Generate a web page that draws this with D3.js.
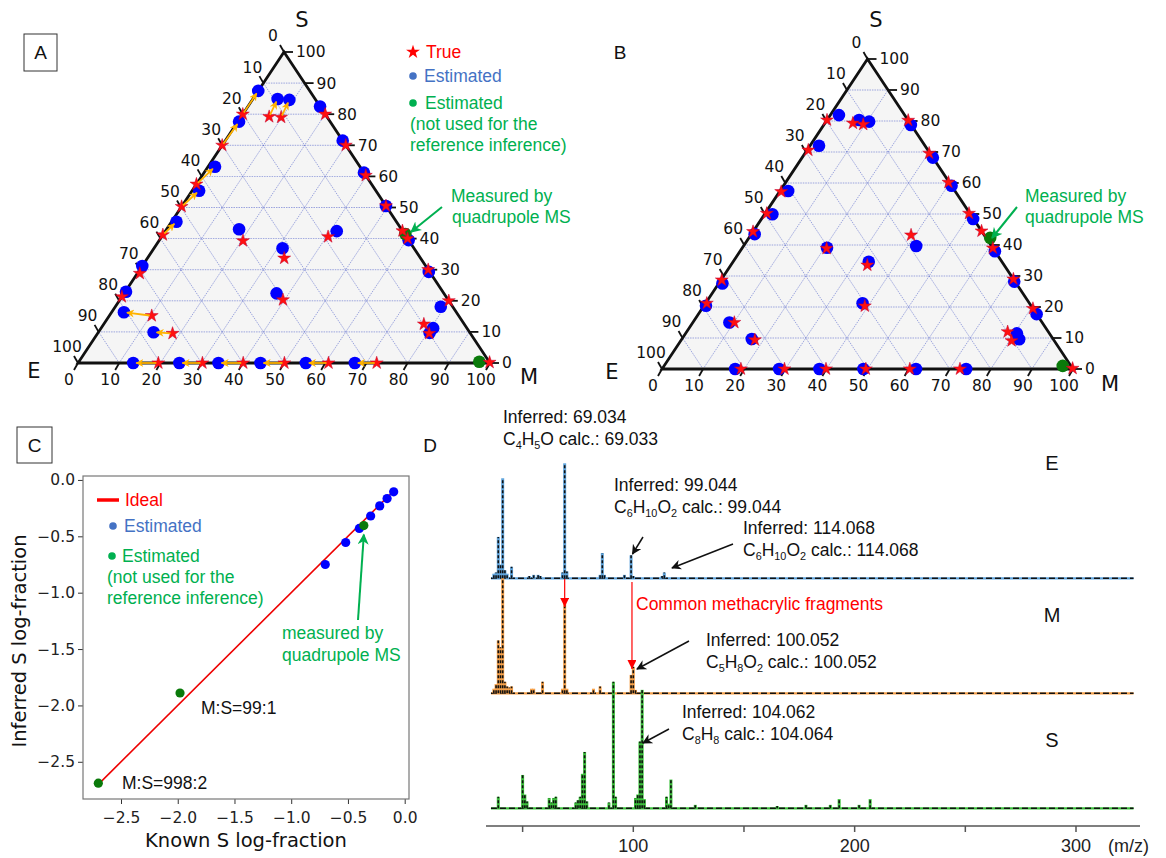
<!DOCTYPE html>
<html>
<head>
<meta charset="utf-8">
<script src="https://cdn.jsdelivr.net/npm/d3@7"></script>
<style>
  body { margin: 0; background: #fff; }
  text { font-family: "Liberation Sans", Arial, sans-serif; }
  .mpl { font-family: "DejaVu Sans", sans-serif; }
</style>
</head>
<body>
<div id="chart"></div>
<script>
// ---------- data ----------
// ternary points are [M %, S %]; E % = 100 - M - S
// true / estimated pairs, same order (A)
const aTrue = [[0,80],[0,70],[0,57.5],[0,50.3],[0,41.2],[0.6,28.8],[0,21.3],
  [10.3,15.2],[18.2,9.5],[6.8,79.2],[9.8,79],
  [20.4,39.3],[33.2,33.7],[39.6,20.3],[40.4,40.6],
  [20,80],[30,70],[39.7,60.3],[49.5,50.5],[57.5,42.5],[70,30],[80,20],[77.7,12.5],[80.5,9.5],
  [19.5,0],[30.2,0],[40.1,0],[50.1,0],[60.8,0],[72.5,0]];
const aEst = [[0,87.5],[0.3,77.6],[1.7,63.1],[1.7,55.4],[1.2,45.4],[0,31.2],[0.2,22.9],
  [3,16.3],[13.4,9.9],[6,84.9],[9,84.6],
  [17.6,43],[31.2,36.9],[37,22.4],[41.6,42.4],
  [17.5,82.5],[28.5,71.5],[38.8,61.2],[49.5,50.5],[60.5,39.5],[70.5,29.3],[79,18.1],[80.6,11.2],[80.5,9.7],
  [13.4,0],[24.6,0],[34.1,0],[44.3,0],[55.3,0],[67.2,0]];
const aTrueExtra = [[99.8,0.2],[60,40]];
const aGreen = [[58.7,41.5],[97.2,0.4]];

// B
const bTrue = [[0,80.3],[0.3,70.6],[0.4,57.2],[0.4,50.2],[0,44.3],[0.2,28.7],[0.3,21.2],
  [10.1,15],[17.9,9.4],[6.8,79.3],[9.5,78.9],
  [20.6,38.9],[33.2,33.5],[39.2,20.3],[39,43.2],
  [19.8,80.2],[30.2,69.6],[39.6,60.2],[49.6,50.2],[55.5,44.5],[71,29],[80.5,19.5],[78.1,12],[80.5,9.1],
  [19.2,0],[29.8,0],[39.9,0],[49.6,0],[60.3,0],[72.5,0]];
const bEst = [[2.1,81.9],[2.2,72],[2,57.4],[1.9,49.9],[0.8,43.5],[0.9,27.6],[0.5,20.4],
  [8.9,15],[17,9.7],[7.8,80.3],[10.5,79.8],
  [20.6,39.1],[33,34.6],[38.2,21.2],[42,39.7],
  [21.2,78.7],[31.8,68.2],[40.9,59.1],[51.5,48.4],[62,38],[71.6,28.2],[82.3,17.7],[80.6,11.5],[82.1,9.6],
  [17.8,0],[28.5,0],[38.3,0],[49,0],[61.8,0],[74,0]];
const bTrueExtra = [[99.8,0.2],[61,39]];
const bGreen = [[58.7,42.3],[97,1]];

const ternTicks = d3.range(0, 101, 10);

// C : log-fractions
const cKnown    = [-0.70, -0.52, -0.40, -0.30, -0.22, -0.155, -0.097];
const cInferred = [-0.75, -0.555, -0.43, -0.32, -0.23, -0.165, -0.105];
const cGreenKnown    = [-0.36, -1.98, -2.70];
const cGreenInferred = [-0.405, -1.89, -2.69];
const cIdeal = [-2.7, -0.1];
const cTicks = [-2.5, -2.0, -1.5, -1.0, -0.5, 0.0];

// D : spectra (m/z, relative intensity)
const eMz  = [37,38,39,40,41,42,43,45,53,55,57,58,68,69,70,85,86,87,96,99,100,113,114];
const eInt = [4,5,36,12,87,7,4,10,2,3,3,2,5,100,6,3,22,3,3,20,2,2,5];
const mMz  = [37,38,39,40,41,42,43,44,45,54,55,59,68,69,70,82,85,99,100,101];
const mInt = [4,8,46,40,100,10,6,5,6,4,4,10,4,81,4,4,6,16,23,3];
const sMz  = [39,50,51,52,62,63,64,65,74,75,76,77,78,79,89,91,92,101,102,103,104,105,115,116,117,128,165,178,189,193,202,207];
const sInt = [10,29,12,6,9,5,9,10,5,7,10,30,49,6,5,110,10,9,12,58,103,8,10,4,25,3,2,3,3,8,3,8];
const dTicks = [50,100,150,200,250,300];
const dTickLabels = [100,200,300];

// ---------- svg ----------
const svg = d3.select('#chart').append('svg')
  .attr('width', 1166).attr('height', 858);

const defs = svg.append('defs');
function marker(id, color, w, h) {
  defs.append('marker').attr('id', id)
    .attr('viewBox', '0 0 10 10').attr('refX', 9).attr('refY', 5)
    .attr('markerUnits', 'userSpaceOnUse')
    .attr('markerWidth', w).attr('markerHeight', h)
    .attr('orient', 'auto')
    .append('path').attr('d', 'M0,0 L10,5 L0,10 L3,5 Z').attr('fill', color);
}
marker('arOrange', '#ffb300', 8, 8);
marker('arGreen', '#00b050', 11, 11);
marker('arBlack', '#111', 10, 10);
defs.append('marker').attr('id', 'arRed')
  .attr('viewBox', '0 0 10 10').attr('refX', 10).attr('refY', 5)
  .attr('markerUnits', 'userSpaceOnUse').attr('markerWidth', 9).attr('markerHeight', 9)
  .attr('orient', 'auto')
  .append('path').attr('d', 'M0,0 L10,5 L0,10 Z').attr('fill', '#ff0000');

function arrow(g, x1, y1, x2, y2, color, w, mk) {
  g.append('line').attr('x1', x1).attr('y1', y1).attr('x2', x2).attr('y2', y2)
    .attr('stroke', color).attr('stroke-width', w).attr('marker-end', `url(#${mk})`);
}

function label(g, x, y, txt, opts = {}) {
  return g.append('text').attr('x', x).attr('y', y).attr('dy', '0.35em')
    .attr('font-size', opts.size || 17.5)
    .attr('fill', opts.color || '#111')
    .attr('text-anchor', opts.anchor || 'start')
    .attr('class', opts.cls || null)
    .text(txt);
}

// text with chemical subscripts, "C_{4}H_{5}O"
function rich(g, x, y, str, size = 17.5) {
  const t = g.append('text').attr('x', x).attr('y', y).attr('dy', '0.35em')
    .attr('font-size', size).attr('fill', '#111');
  let down = false;
  str.split(/(_\{[^}]*\})/).filter(p => p.length).forEach(p => {
    if (p.startsWith('_{')) {
      t.append('tspan').attr('dy', down ? 0 : 4).attr('font-size', size * 0.62).text(p.slice(2, -1));
      down = true;
    } else {
      t.append('tspan').attr('dy', down ? -4 : 0).text(p);
      down = false;
    }
  });
}

function boxLabel(x, y, w, h, txt) {
  svg.append('rect').attr('x', x).attr('y', y).attr('width', w).attr('height', h)
    .attr('fill', 'none').attr('stroke', '#333').attr('stroke-width', 1);
  label(svg, x + w / 2, y + h / 2, txt, { size: 19, anchor: 'middle' });
}

// ---------- ternary panel ----------
function ternary(cfg, trueP, estP, trueExtra, greenP, withArrows) {
  const g = svg.append('g');
  const xs = d3.scaleLinear().domain([0, 100]).range([cfg.x0, cfg.x1]);
  const ys = d3.scaleLinear().domain([0, 100]).range([cfg.yBase, cfg.yTop]);
  const P = d => [xs(d[0] + d[1] / 2), ys(d[1])];

  const corners = [[0, 0], [100, 0], [0, 100]].map(P);
  g.append('path').attr('d', 'M' + corners.join('L') + 'Z').attr('fill', '#f5f5f5');

  const grid = [];
  d3.range(10, 100, 10).forEach(k => {
    grid.push([P([0, k]), P([100 - k, k])]);
    grid.push([P([k, 0]), P([k, 100 - k])]);
    grid.push([P([100 - k, 0]), P([0, 100 - k])]);
  });
  g.selectAll('line.grid').data(grid).join('line').attr('class', 'grid')
    .attr('x1', d => d[0][0]).attr('y1', d => d[0][1])
    .attr('x2', d => d[1][0]).attr('y2', d => d[1][1])
    .attr('stroke', '#4a5cc8').attr('stroke-width', 0.7)
    .attr('stroke-dasharray', '1.5,1').attr('opacity', 0.75);

  g.append('path').attr('d', 'M' + corners.join('L') + 'Z')
    .attr('fill', 'none').attr('stroke', '#111').attr('stroke-width', 2.8);

  // ticks & labels
  const axes = [
    { pt: k => P([0, 100 - k]), tick: [-4, -7], lab: [-11, -16], anchor: 'middle' },  // E (left)
    { pt: k => P([k, 0]), tick: [-4, 7], lab: [-9, 17], anchor: 'middle' },            // M (bottom)
    { pt: k => P([100 - k, k]), tick: [9, 0], lab: [12, 0], anchor: 'start' }          // S (right)
  ];
  axes.forEach(a => {
    ternTicks.forEach(k => {
      const p = a.pt(k);
      g.append('line').attr('x1', p[0]).attr('y1', p[1])
        .attr('x2', p[0] + a.tick[0]).attr('y2', p[1] + a.tick[1])
        .attr('stroke', '#111').attr('stroke-width', 1.8);
      label(g, p[0] + a.lab[0], p[1] + a.lab[1], k, { size: 15.5, anchor: a.anchor, cls: 'mpl' });
    });
  });
  label(g, cfg.S[0], cfg.S[1], 'S', { size: 21, anchor: 'middle', cls: 'mpl' });
  label(g, cfg.E[0], cfg.E[1], 'E', { size: 21, anchor: 'middle', cls: 'mpl' });
  label(g, cfg.M[0], cfg.M[1], 'M', { size: 21, anchor: 'middle', cls: 'mpl' });

  // markers
  g.selectAll('circle.est').data(estP).join('circle').attr('class', 'est')
    .attr('cx', d => P(d)[0]).attr('cy', d => P(d)[1]).attr('r', 6.3).attr('fill', '#0000ff');
  g.selectAll('circle.green').data(greenP).join('circle').attr('class', 'green')
    .attr('cx', d => P(d)[0]).attr('cy', d => P(d)[1]).attr('r', 6.3).attr('fill', '#0a7a0a');
  const star = d3.symbol(d3.symbolStar, 52);
  g.selectAll('path.true').data(trueP.concat(trueExtra)).join('path').attr('class', 'true')
    .attr('d', star).attr('transform', d => `translate(${P(d)})`)
    .attr('fill', '#ff1010').attr('stroke', '#c00030').attr('stroke-width', 0.5);

  if (withArrows) {
    trueP.forEach((t, i) => {
      const a = P(t), b = P(estP[i]);
      const dx = b[0] - a[0], dy = b[1] - a[1], len = Math.hypot(dx, dy);
      if (len < 14) return;
      const ux = dx / len, uy = dy / len;
      arrow(g, a[0] + ux * 2, a[1] + uy * 2, b[0] - ux * 3, b[1] - uy * 3, '#ffb300', 1.8, 'arOrange');
    });
  }
  return g;
}

// ----- panel A -----
boxLabel(24, 34, 33, 37, 'A');
ternary({ x0: 78, x1: 490, yBase: 363, yTop: 52, S: [302, 20], E: [34, 371], M: [529, 377] },
  aTrue, aEst, aTrueExtra, aGreen, true);

// legend A
svg.append('path').attr('d', d3.symbol(d3.symbolStar, 60)).attr('transform', 'translate(413,52)').attr('fill', '#ff0000');
label(svg, 426, 52, 'True', { color: '#ff0000' });
svg.append('circle').attr('cx', 413).attr('cy', 76).attr('r', 3.8).attr('fill', '#4472c4');
label(svg, 424, 76, 'Estimated', { color: '#4472c4' });
svg.append('circle').attr('cx', 413).attr('cy', 103).attr('r', 3.8).attr('fill', '#00b050');
label(svg, 425, 103, 'Estimated', { color: '#00b050' });
label(svg, 410, 124, '(not used for the', { color: '#00b050' });
label(svg, 410, 145, 'reference inference)', { color: '#00b050' });

label(svg, 451, 196, 'Measured by', { color: '#00b050' });
label(svg, 452, 217, 'quadrupole MS', { color: '#00b050' });
arrow(svg, 442, 207, 411, 232, '#00b050', 2, 'arGreen');

// ----- panel B -----
label(svg, 620, 52, 'B', { size: 19, anchor: 'middle' });
ternary({ x0: 662, x1: 1073, yBase: 369, yTop: 59, S: [876, 20], E: [612, 372], M: [1110, 384] },
  bTrue, bEst, bTrueExtra, bGreen, false);
label(svg, 1025, 196, 'Measured by', { color: '#00b050' });
label(svg, 1025, 217, 'quadrupole MS', { color: '#00b050' });
arrow(svg, 1017, 207, 992, 238, '#00b050', 2, 'arGreen');

// ----- panel C -----
boxLabel(17, 427, 35, 36, 'C');
{
  const g = svg.append('g');
  const x = d3.scaleLinear().domain([-2.835, 0.038]).range([83, 409]);
  const y = d3.scaleLinear().domain([-2.83, 0.035]).range([799, 476]);
  const fmt = d => d3.format('.1f')(d).replace('-', '\u2212');

  const xAxis = g.append('g').attr('transform', 'translate(0,799)')
    .call(d3.axisBottom(x).tickValues(cTicks).tickFormat(fmt).tickSize(5).tickSizeOuter(0));
  const yAxis = g.append('g').attr('transform', 'translate(83,0)')
    .call(d3.axisLeft(y).tickValues(cTicks).tickFormat(fmt).tickSize(5).tickSizeOuter(0));
  [xAxis, yAxis].forEach(a => {
    a.select('.domain').remove();
    a.selectAll('line').attr('stroke', '#333');
    a.selectAll('text').attr('class', 'mpl').attr('font-size', 15.5).attr('fill', '#222');
  });
  xAxis.selectAll('text').attr('dy', '1.0em');

  g.append('rect').attr('x', 83).attr('y', 476).attr('width', 326).attr('height', 323)
    .attr('fill', 'none').attr('stroke', '#777').attr('stroke-width', 1.2);

  g.append('line').attr('x1', x(cIdeal[0])).attr('y1', y(cIdeal[0]))
    .attr('x2', x(cIdeal[1])).attr('y2', y(cIdeal[1]))
    .attr('stroke', '#ee0000').attr('stroke-width', 1.6);

  g.selectAll('circle.est').data(cKnown).join('circle').attr('class', 'est')
    .attr('cx', d => x(d)).attr('cy', (d, i) => y(cInferred[i])).attr('r', 4.6).attr('fill', '#0000ff');
  g.selectAll('circle.green').data(cGreenKnown).join('circle').attr('class', 'green')
    .attr('cx', d => x(d)).attr('cy', (d, i) => y(cGreenInferred[i])).attr('r', 4.6).attr('fill', '#0a7a0a');

  // legend
  g.append('line').attr('x1', 97).attr('x2', 119).attr('y1', 500).attr('y2', 500)
    .attr('stroke', '#ff0000').attr('stroke-width', 3.5);
  label(g, 125, 500, 'Ideal', { color: '#ff0000' });
  g.append('circle').attr('cx', 113).attr('cy', 526).attr('r', 3.8).attr('fill', '#4472c4');
  label(g, 124, 526, 'Estimated', { color: '#4472c4' });
  g.append('circle').attr('cx', 112).attr('cy', 556).attr('r', 3.8).attr('fill', '#00b050');
  label(g, 122, 556, 'Estimated', { color: '#00b050' });
  label(g, 107, 577, '(not used for the', { color: '#00b050' });
  label(g, 107, 598, 'reference inference)', { color: '#00b050' });

  label(g, 282, 633, 'measured by', { color: '#00b050' });
  label(g, 282, 655, 'quadrupole MS', { color: '#00b050' });
  arrow(g, 358, 620, x(cGreenKnown[0]), y(cGreenInferred[0]) + 9, '#00b050', 2, 'arGreen');

  label(g, 201, 708, 'M:S=99:1');
  label(g, 122, 783, 'M:S=998:2');

  label(g, 246, 840, 'Known S log-fraction', { size: 19.5, anchor: 'middle', cls: 'mpl' });
  g.append('text').attr('class', 'mpl').attr('font-size', 19.5).attr('fill', '#111')
    .attr('text-anchor', 'middle').attr('dy', '0.35em')
    .attr('transform', 'translate(19,641) rotate(-90)').text('Inferred S log-fraction');
}

// ----- panel D -----
label(svg, 430, 445, 'D', { size: 19, anchor: 'middle' });
{
  const g = svg.append('g');
  const x = d3.scaleLinear().domain([100, 300]).range([633.3, 1076]);
  const spectra = [
    { mz: eMz, it: eInt, base: 578.3, color: '#5fa4dc', name: 'E', ly: 463 },
    { mz: mMz, it: mInt, base: 693.3, color: '#f5a04a', name: 'M', ly: 615 },
    { mz: sMz, it: sInt, base: 808.3, color: '#3cc03c', name: 'S', ly: 740 }
  ];
  spectra.forEach(s => {
    const y = d3.scaleLinear().domain([0, 100]).range([s.base, s.base - 115]);
    g.append('line').attr('x1', x(35.7)).attr('x2', x(326)).attr('y1', s.base).attr('y2', s.base)
      .attr('stroke', s.color).attr('stroke-width', 2.2);
    g.append('line').attr('x1', x(35.7)).attr('x2', x(326)).attr('y1', s.base).attr('y2', s.base)
      .attr('stroke', '#111').attr('stroke-width', 1.5).attr('stroke-dasharray', '6,3');
    const pk = s.mz.map((m, i) => [m, s.it[i]]);
    g.selectAll(null).data(pk).join('line')
      .attr('x1', d => x(d[0])).attr('x2', d => x(d[0]))
      .attr('y1', s.base).attr('y2', d => y(d[1]))
      .attr('stroke', s.color).attr('stroke-width', 3);
    g.selectAll(null).data(pk).join('line')
      .attr('x1', d => x(d[0])).attr('x2', d => x(d[0]))
      .attr('y1', s.base).attr('y2', d => y(d[1]))
      .attr('stroke', '#111').attr('stroke-width', 1.6).attr('stroke-dasharray', '3,2');
    label(g, 1052, s.ly, s.name, { size: 20, anchor: 'middle' });
  });

  // axis
  g.append('line').attr('x1', 486).attr('x2', 1140).attr('y1', 826).attr('y2', 826)
    .attr('stroke', '#555').attr('stroke-width', 1.5);
  g.selectAll('line.dt').data(dTicks).join('line').attr('class', 'dt')
    .attr('x1', d => x(d)).attr('x2', d => x(d)).attr('y1', 826).attr('y2', 832)
    .attr('stroke', '#555').attr('stroke-width', 1.5);
  g.selectAll('text.dl').data(dTickLabels).join('text').attr('class', 'dl')
    .attr('x', d => x(d)).attr('y', 846).attr('dy', '0.35em').attr('text-anchor', 'middle')
    .attr('font-size', 18).attr('fill', '#222').text(d => d);
  label(g, 1108, 846, '(m/z)', { size: 18, color: '#222' });

  // annotations
  rich(g, 503, 423, 'Inferred: 69.034');
  rich(g, 503, 445, 'C_{4}H_{5}O calc.: 69.033');
  rich(g, 614, 491, 'Inferred: 99.044');
  rich(g, 614, 513, 'C_{6}H_{10}O_{2} calc.: 99.044');
  rich(g, 743, 534, 'Inferred: 114.068');
  rich(g, 743, 556, 'C_{6}H_{10}O_{2} calc.: 114.068');
  rich(g, 706, 646, 'Inferred: 100.052');
  rich(g, 706, 668, 'C_{5}H_{8}O_{2} calc.: 100.052');
  rich(g, 682, 718, 'Inferred: 104.062');
  rich(g, 682, 740, 'C_{8}H_{8} calc.: 104.064');
  label(g, 636, 604, 'Common methacrylic fragments', { color: '#ff0000' });

  arrow(g, 643, 537, 632.5, 554, '#111', 1.5, 'arBlack');
  arrow(g, 733, 544, 672, 568, '#111', 1.5, 'arBlack');
  arrow(g, 689, 641, 637, 669, '#111', 1.5, 'arBlack');
  arrow(g, 669, 729, 643, 743, '#111', 1.5, 'arBlack');

  arrow(g, x(69), 579, x(69), 607, '#ff0000', 1.2, 'arRed');
  arrow(g, x(99.4), 582, x(99.4), 669, '#ff0000', 1.2, 'arRed');
}
</script>
</body>
</html>
